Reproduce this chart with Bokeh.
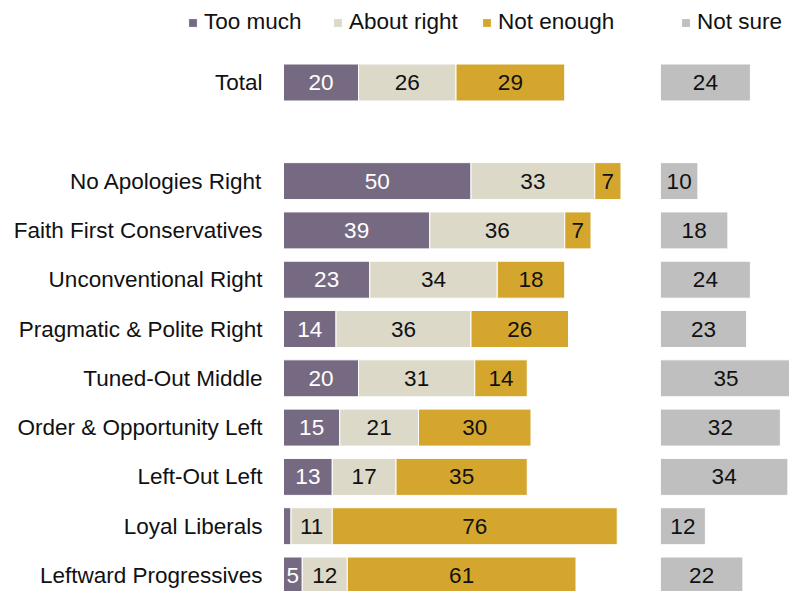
from bokeh.plotting import figure
from bokeh.models import ColumnDataSource, Range1d, Legend, LegendItem
from bokeh.core.properties import value
from bokeh.embed import file_html
from bokeh.resources import INLINE

categories = ["Total", "No Apologies Right", "Faith First Conservatives",
              "Unconventional Right", "Pragmatic & Polite Right", "Tuned-Out Middle",
              "Order & Opportunity Left", "Left-Out Left", "Loyal Liberals",
              "Leftward Progressives"]
too_much = [20, 50, 39, 23, 14, 20, 15, 13, 2, 5]
about_right = [26, 33, 36, 34, 36, 31, 21, 17, 11, 12]
not_enough = [29, 7, 7, 18, 26, 14, 30, 35, 76, 61]
not_sure = [24, 10, 18, 24, 23, 35, 32, 34, 12, 22]
series_names = ["Too much", "About right", "Not enough", "Not sure"]

colors = ["#766A82", "#DCD9C9", "#D4A62E", "#BFBFBF"]
text_colors = ["white", "#111111", "#111111", "#111111"]
FONT = "Liberation Sans"
FS = "22.5px"
NOT_SURE_OFFSET = 100.5
LABEL_MIN = 4

rows = [0] + list(range(2, 2 + len(categories) - 1))

W, H = 789, 591
X0, PX = 283, 3.75
p = figure(width=W, height=H, output_backend="svg", toolbar_location=None,
           x_range=Range1d(-X0 / PX, (W - X0) / PX),
           y_range=Range1d((H - 82) / 49.3, -82 / 49.3), min_border=0)
p.axis.visible = False
p.grid.visible = False
p.outline_line_color = None

stacks = [too_much, about_right, not_enough]
cum = [0] * len(categories)
renderers = []
for name, vals, col, tcol in zip(series_names[:3], stacks, colors[:3], text_colors[:3]):
    left = list(cum)
    right = [c + v for c, v in zip(cum, vals)]
    mid = [(l + r) / 2 for l, r in zip(left, right)]
    labels = [str(v) if v >= LABEL_MIN else "" for v in vals]
    src = ColumnDataSource(dict(y=rows, left=left, right=right, mid=mid, lab=labels))
    r = p.hbar(y="y", left="left", right="right", height=0.75, source=src,
               fill_color=col, line_color="white", line_width=1)
    renderers.append(r)
    p.text(x="mid", y="y", text="lab", source=src, text_align="center",
           text_baseline="middle", text_color=tcol, text_font=value(FONT),
           text_font_size=FS)
    cum = right

ns_left = [NOT_SURE_OFFSET] * len(categories)
ns_right = [NOT_SURE_OFFSET + v for v in not_sure]
ns_mid = [NOT_SURE_OFFSET + v / 2 for v in not_sure]
ns_src = ColumnDataSource(dict(y=rows, left=ns_left, right=ns_right, mid=ns_mid,
                               lab=[str(v) for v in not_sure]))
r_ns = p.hbar(y="y", left="left", right="right", height=0.75, source=ns_src,
              fill_color=colors[3], line_color="white", line_width=1)
renderers.append(r_ns)
p.text(x="mid", y="y", text="lab", source=ns_src, text_align="center",
       text_baseline="middle", text_color=text_colors[3], text_font=value(FONT),
       text_font_size=FS)

cat_src = ColumnDataSource(dict(y=rows, x=[-5.6] * len(categories), t=categories))
p.text(x="x", y="y", text="t", source=cat_src, text_align="right",
       text_baseline="middle", text_color="#111111", text_font=value(FONT),
       text_font_size=FS)

leg_x = [187, 332, 481, 680]
for name, r, lx in zip(series_names, renderers, leg_x):
    leg = Legend(items=[LegendItem(label=name, renderers=[r])], location=(lx, 556),
                 orientation="horizontal", glyph_width=11, glyph_height=11,
                 label_standoff=6, padding=0, margin=0, border_line_alpha=0,
                 background_fill_alpha=0, label_text_font=FONT,
                 label_text_font_size=FS, label_text_color="#111111")
    p.add_layout(leg)

open("out.html", "w").write(file_html(p, INLINE))
